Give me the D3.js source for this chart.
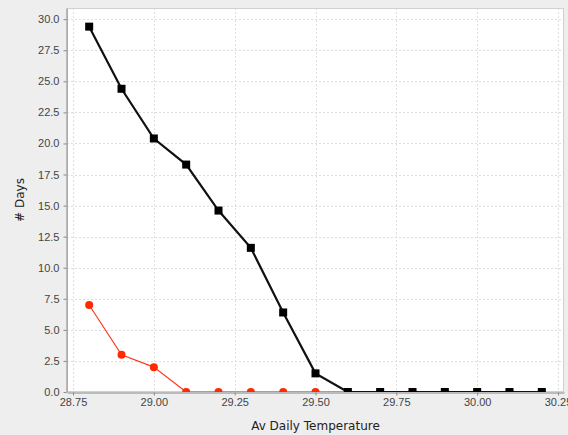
<!DOCTYPE html>
<html>
<head>
<meta charset="utf-8">
<script src="https://cdn.jsdelivr.net/npm/d3@7"></script>
<style>
  html, body { margin: 0; padding: 0; background: #eeeeee; }
  svg { display: block; font-family: "DejaVu Sans", sans-serif; }
</style>
</head>
<body>
<svg id="chart" width="568" height="435"></svg>
<script>
// Temperature bins (°C)
const temps = [28.8, 28.9, 29.0, 29.1, 29.2, 29.3, 29.4, 29.5, 29.6, 29.7, 29.8, 29.9, 30.0, 30.1, 30.2];
// Number of days at or above each temperature
const daysAll = [29.4, 24.4, 20.4, 18.3, 14.6, 11.6, 6.4, 1.5, 0, 0, 0, 0, 0, 0, 0];
const daysRed = [7.0, 3.0, 2.0, 0, 0, 0, 0, 0, 0, 0, 0, 0, 0, 0, 0];
// Axis ticks
const xTicks = [28.75, 29.0, 29.25, 29.5, 29.75, 30.0, 30.25];
const yTicks = [0, 2.5, 5, 7.5, 10, 12.5, 15, 17.5, 20, 22.5, 25, 27.5, 30];

const svg = d3.select("#chart");
const plot = { left: 67, top: 8, right: 564, bottom: 392 };

const x = d3.scaleLinear().domain([28.7314, 30.2686]).range([plot.left, plot.right]);
const y = d3.scaleLinear().domain([0, 30.9]).range([plot.bottom, plot.top]);

// plot background
svg.append("rect")
  .attr("x", plot.left).attr("y", plot.top)
  .attr("width", plot.right - plot.left).attr("height", plot.bottom - plot.top)
  .attr("fill", "#ffffff");

// grid lines
const grid = svg.append("g").attr("stroke", "#dedede").attr("stroke-dasharray", "2,2").attr("stroke-width", 1);
grid.selectAll("line.v").data(xTicks).join("line")
  .attr("x1", d => Math.round(x(d)) + 0.5).attr("x2", d => Math.round(x(d)) + 0.5)
  .attr("y1", plot.top).attr("y2", plot.bottom);
grid.selectAll("line.h").data(yTicks.filter(d => d > 0)).join("line")
  .attr("y1", d => Math.round(y(d)) + 0.5).attr("y2", d => Math.round(y(d)) + 0.5)
  .attr("x1", plot.left).attr("x2", plot.right);

// right / top frame
svg.append("rect")
  .attr("x", plot.left + 0.5).attr("y", plot.top + 0.5)
  .attr("width", plot.right - plot.left - 1).attr("height", plot.bottom - plot.top - 1)
  .attr("fill", "none").attr("stroke", "#d0d0d0");

// axes
const xAxis = d3.axisBottom(x).tickValues(xTicks).tickFormat(d3.format(".2f")).tickSizeInner(3).tickSizeOuter(0).tickPadding(3);
const yAxis = d3.axisLeft(y).tickValues(yTicks).tickFormat(d3.format(".1f")).tickSizeInner(3).tickSizeOuter(0).tickPadding(4);

const gx = svg.append("g").attr("transform", `translate(0,${plot.bottom + 0.5})`).call(xAxis);
const gy = svg.append("g").attr("transform", `translate(${plot.left - 0.5},0)`).call(yAxis);
[gx, gy].forEach(g => {
  g.select(".domain").attr("stroke", "#888888");
  g.selectAll(".tick line").attr("stroke", "#888888");
  g.selectAll(".tick text").attr("fill", "#444444").attr("font-size", 11);
});

// clip for marks
svg.append("clipPath").attr("id", "plotClip").append("rect")
  .attr("x", plot.left).attr("y", plot.top)
  .attr("width", plot.right - plot.left).attr("height", plot.bottom - plot.top);

const marks = svg.append("g").attr("clip-path", "url(#plotClip)");

const redPts = temps.map((t, i) => [t, daysRed[i]]);
const blackPts = temps.map((t, i) => [t, daysAll[i]]);
const line = d3.line().x(d => x(d[0])).y(d => y(d[1]));

// red series
marks.append("path").datum(redPts).attr("d", line)
  .attr("fill", "none").attr("stroke", "#ff3a22").attr("stroke-width", 1.2);
marks.selectAll("circle.red").data(redPts).join("circle")
  .attr("cx", d => x(d[0])).attr("cy", d => y(d[1])).attr("r", 4)
  .attr("fill", "#ff2a00");

// black series
marks.append("path").datum(blackPts).attr("d", line)
  .attr("fill", "none").attr("stroke", "#111111").attr("stroke-width", 2.2);
marks.selectAll("rect.blk").data(blackPts).join("rect")
  .attr("x", d => x(d[0]) - 4).attr("y", d => y(d[1]) - 4)
  .attr("width", 8).attr("height", 8).attr("fill", "#000000");

// axis titles
svg.append("text")
  .attr("x", (plot.left + plot.right) / 2).attr("y", 430)
  .attr("text-anchor", "middle").attr("font-size", 12).attr("fill", "#222222")
  .text("Av Daily Temperature");
svg.append("text")
  .attr("transform", `translate(24,${(plot.top + plot.bottom) / 2}) rotate(-90)`)
  .attr("text-anchor", "middle").attr("font-size", 12).attr("fill", "#222222")
  .text("# Days");
</script>
</body>
</html>
